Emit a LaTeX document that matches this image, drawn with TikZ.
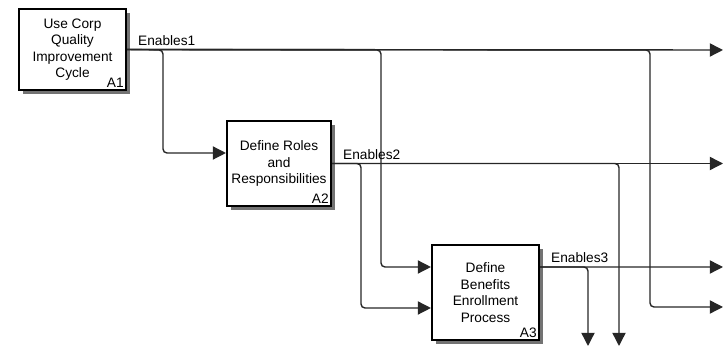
\documentclass[tikz,border=0pt]{standalone}
\usepackage{fontspec}
\setsansfont{Liberation Sans}
\usetikzlibrary{positioning, arrows.meta, shadows}

\begin{document}
\begin{tikzpicture}[x=0.02cm, y=-0.02cm,
    font=\sffamily\fontsize{7.8}{9.4}\selectfont,
    fn/.style={draw, line width=1.2pt, fill=white, align=center, inner sep=0pt,
      minimum width=2.14cm,
      drop shadow={shadow xshift=0.08cm, shadow yshift=-0.08cm, fill=black!55, opacity=1}},
    num/.style={anchor=south east, inner sep=0.06cm},
    arr/.style={draw=black!85, line width=0.8pt, rounded corners=0.08cm,
      -{Triangle[length=7.5pt, width=7.5pt]}},
    lbl/.style={inner sep=1pt}]
  \useasboundingbox (0,0) rectangle (728,347);

  % activities
  \node[fn, minimum height=1.62cm, label={[num]south east:A1}] (a1) at (72.5,49.5)
    {Use Corp\\Quality\\Improvement\\Cycle};
  \node[fn, minimum width=2.08cm, minimum height=1.7cm, label={[num]south east:A2}] (a2) at (279,163.5)
    {Define Roles\\and\\Responsibilities};
  \node[fn, minimum height=1.9cm, label={[num]south east:A3}] (a3) at (485.5,292.5)
    {Define\\Benefits\\Enrollment\\Process};

  % ports and ends
  \coordinate (a2i) at ([yshift=0.21cm]a2.west);
  \coordinate (a3i) at ([yshift=0.51cm]a3.west);
  \coordinate (a3j) at ([yshift=-0.31cm]a3.west);
  \coordinate (a3o) at ([yshift=0.51cm]a3.east);
  \coordinate (b1) at (163,50);
  \coordinate (b2) at (381,50);
  \coordinate (b3) at (650,50);
  \coordinate (b4) at (361,163.5);
  \coordinate (b5) at (619,163.5);
  \coordinate (b6) at (588,267);
  \coordinate (o1) at (723,50);
  \coordinate (o2) at (723,163.5);
  \coordinate (o3) at (723,267);
  \coordinate (o4) at (723,307);
  \coordinate (d1) at (588,346);
  \coordinate (d2) at (619,346);

  % Enables1
  \draw[arr] (a1.east) -- (o1);
  \draw[arr] (a1.east) -- (b1) |- (a2i);
  \draw[arr] (a1.east) -- (b2) |- (a3i);
  \draw[arr] (a1.east) -- (b3) |- (o4);
  % Enables2
  \draw[arr] (a2.east) -- (o2);
  \draw[arr] (a2.east) -- (b4) |- (a3j);
  \draw[arr] (a2.east) -- (b5) -- (d2);
  % Enables3
  \draw[arr] (a3o) -- (o3);
  \draw[arr] (a3o) -- (b6) -- (d1);

  \node[lbl, above right=0.04cm and 0.18cm of a1.east] (e1) {Enables1};
  \node[lbl, above right=0.04cm and 0.18cm of a2.east] (e2) {Enables2};
  \node[lbl, above right=0.04cm and 0.18cm of a3o] (e3) {Enables3};
\end{tikzpicture}
\end{document}
